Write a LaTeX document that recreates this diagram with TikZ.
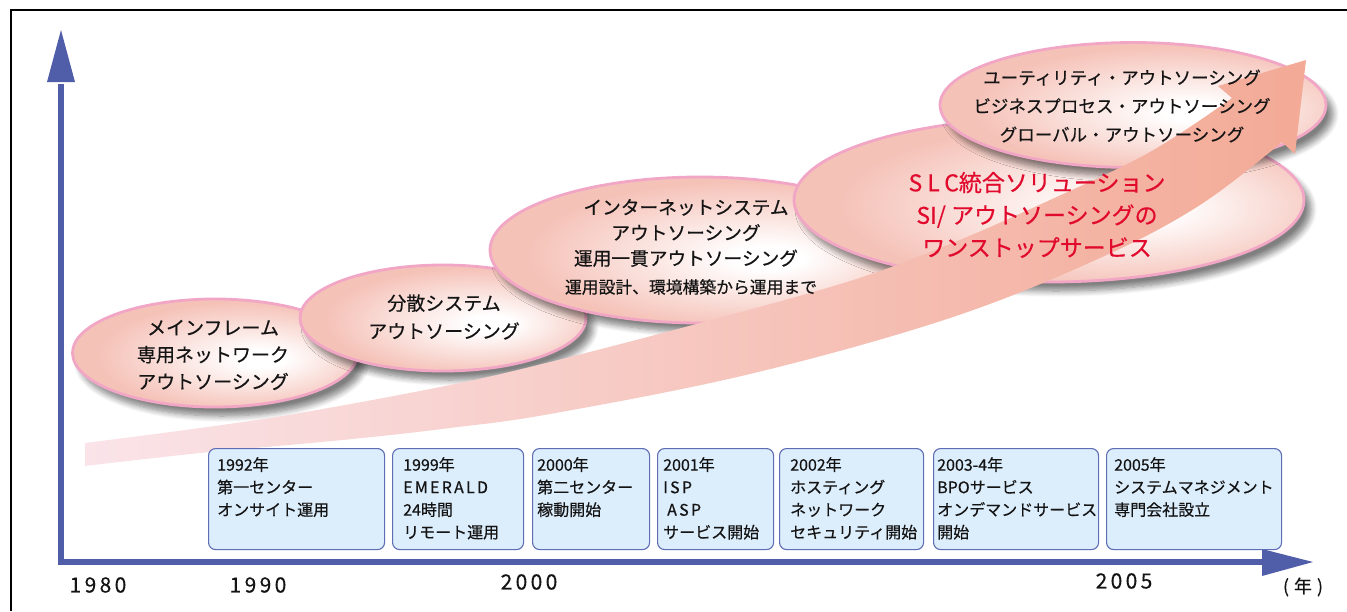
\documentclass[tikz,border=0pt]{standalone}
\usepackage{fontspec}
\setmainfont{Noto Sans CJK JP}[FakeBold=0.45]
\newfontfamily\spacedfont[LetterSpace=22,FakeBold=0.45]{Noto Sans CJK JP}
\newfontfamily\boxspaced[LetterSpace=14,FakeBold=0.45]{Noto Sans CJK JP}
\newfontfamily\yearfont[LetterSpace=16,FakeBold=0.2]{Noto Sans CJK JP}
\usetikzlibrary{shapes.geometric,shadows.blur}
\definecolor{axisblue}{RGB}{80,93,168}
\definecolor{boxfill}{RGB}{220,237,251}
\definecolor{boxdraw}{RGB}{95,110,180}
\definecolor{ellpink}{RGB}{245,194,184}
\definecolor{ellborder}{RGB}{242,166,197}
\definecolor{bandL}{RGB}{250,228,233}
\definecolor{bandR}{RGB}{243,170,150}
\definecolor{slcred}{RGB}{225,10,45}
\definecolor{textdark}{RGB}{20,20,20}
\pgfdeclareradialshading{ellsh}{\pgfpoint{9bp}{-3bp}}{color(0bp)=(white); color(4bp)=(white); color(25bp)=(ellpink); color(50bp)=(ellpink)}
\begin{document}
\begin{tikzpicture}[x=1pt,y=-1pt,
  ell/.style={ellipse, draw=ellborder, line width=2.8pt, shade, shading=ellsh, inner sep=0pt,
    blur shadow={shadow xshift=7pt, shadow yshift=-9pt, shadow blur radius=6pt, shadow opacity=50, shadow blur steps=8}},
  etxt/.style={align=center, inner sep=0pt, text=textdark},
  boxst/.style={draw=boxdraw, fill=boxfill, line width=1.1pt, rounded corners=7pt, minimum height=101pt, inner sep=0pt, anchor=north west},
  btxt/.style={anchor=north west, align=left, inner sep=0pt, text=textdark, font=\fontsize{16}{22.5}\selectfont},
  yeartxt/.style={inner sep=0pt, text=textdark, font=\fontsize{21}{24}\selectfont\yearfont},
  axisline/.style={draw=axisblue, line width=6pt},
  framestyle/.style={draw=black, line width=1.6pt}
]
\useasboundingbox (0,0) rectangle (1347,611);

% frame
\coordinate (fbl) at (11,611);
\coordinate (ftl) at (11,10);
\coordinate (ftr) at (1347,10);
\draw[framestyle] (fbl) -- (ftl) -- (ftr);

% ellipses
\node[ell, minimum width=285pt, minimum height=108pt] (e1) at (215,353) {};
\node[ell, minimum width=286pt, minimum height=106pt] (e2) at (443,318) {};
\node[ell, minimum width=420pt, minimum height=146pt] (e3) at (700,250) {};
\node[ell, minimum width=510pt, minimum height=164pt] (e4) at (1049,200) {};
\node[ell, minimum width=386pt, minimum height=125pt] (e5) at (1133,105) {};

% growth arrow
\shade[left color=bandL, right color=bandR]
  plot[smooth, tension=0.6] coordinates {(85,443) (200,428) (300,413) (450,385) (550,362) (700,323) (850,281) (950,244) (1050,200) (1150,152) (1232,98)}
  -- (1218,86) -- (1306,60) -- (1295,154) --
  plot[smooth, tension=0.6] coordinates {(1282,142) (1200,205) (1100,258) (950,318) (750,374) (550,414) (450,428) (372,437) (300,444) (200,453) (85,466)}
  -- cycle;

% ellipse texts
\node[etxt, font=\fontsize{19}{27}\selectfont] (l1) at (213,355) {メインフレーム\\専用ネットワーク\\アウトソーシング};
\node[etxt, font=\fontsize{19}{28}\selectfont] (l2) at (444,317) {分散システム\\アウトソーシング};
\node[etxt, font=\fontsize{18.7}{25.5}\selectfont] (l3) at (686,233) {インターネットシステム\\アウトソーシング\\運用一貫アウトソーシング};
\node[etxt, font=\fontsize{16.8}{20}\selectfont] (l3b) at (691,287) {運用設計、環境構築から運用まで};
\node[etxt, text=slcred, font=\fontsize{23}{32.5}\selectfont] (l4) at (1037,215) {{\spacedfont SLC}統合ソリューション\\SI/ アウトソーシングの\\ワンストップサービス};
\node[etxt, font=\fontsize{17.5}{28.5}\selectfont] (l5) at (1122,106) {ユーティリティ・アウトソーシング\\ビジネスプロセス・アウトソーシング\\グローバル・アウトソーシング};

% axes
\coordinate (ybot) at (61,565);
\coordinate (ybase) at (61,84);
\coordinate (ytip) at (61,30);
\coordinate (xleft) at (58,562);
\coordinate (xbase) at (1264,562);
\coordinate (xtip) at (1313,562);
\draw[axisline] (ybot) -- (ybase);
\fill[axisblue] (47,82) -- (ytip) -- (75,82) -- cycle;
\draw[axisline] (xleft) -- (xbase);
\fill[axisblue] (1262,549) -- (xtip) -- (1262,576) -- cycle;

% event boxes
\node[boxst, minimum width=176pt] (b1) at (208,448) {};
\node[boxst, minimum width=131pt] (b2) at (392,448) {};
\node[boxst, minimum width=117pt] (b3) at (532,448) {};
\node[boxst, minimum width=116pt] (b4) at (657,448) {};
\node[boxst, minimum width=144pt] (b5) at (779,448) {};
\node[boxst, minimum width=165pt] (b6) at (933,448) {};
\node[boxst, minimum width=175pt] (b7) at (1106,448) {};

\node[btxt] (t1) at (217,457) {1992年\\第一センター\\オンサイト運用};
\node[btxt] (t2) at (403,457) {1999年\\{\boxspaced EMERALD}\\24時間\\リモート運用};
\node[btxt] (t3) at (537,457) {2000年\\第二センター\\稼動開始};
\node[btxt] (t4) at (663,457) {2001年\\{\boxspaced ISP}\\\hspace*{4pt}{\boxspaced ASP}\\サービス開始};
\node[btxt] (t5) at (790,457) {2002年\\ホスティング\\ネットワーク\\セキュリティ開始};
\node[btxt] (t6) at (937,457) {2003-4年\\BPOサービス\\オンデマンドサービス\\開始};
\node[btxt] (t7) at (1114,457) {2005年\\システムマネジメント\\専門会社設立};

% year labels
\node[yeartxt] (y1980) at (98,585) {1980};
\node[yeartxt] (y1990) at (258,585) {1990};
\node[yeartxt] (y2000) at (529,582) {2000};
\node[yeartxt] (y2005) at (1124,581) {2005};
\node[inner sep=0pt, text=textdark, font=\fontsize{18}{20}\selectfont] (nen) at (1303,587) {(\hspace{5pt}年\hspace{5pt})};
\end{tikzpicture}
\end{document}
